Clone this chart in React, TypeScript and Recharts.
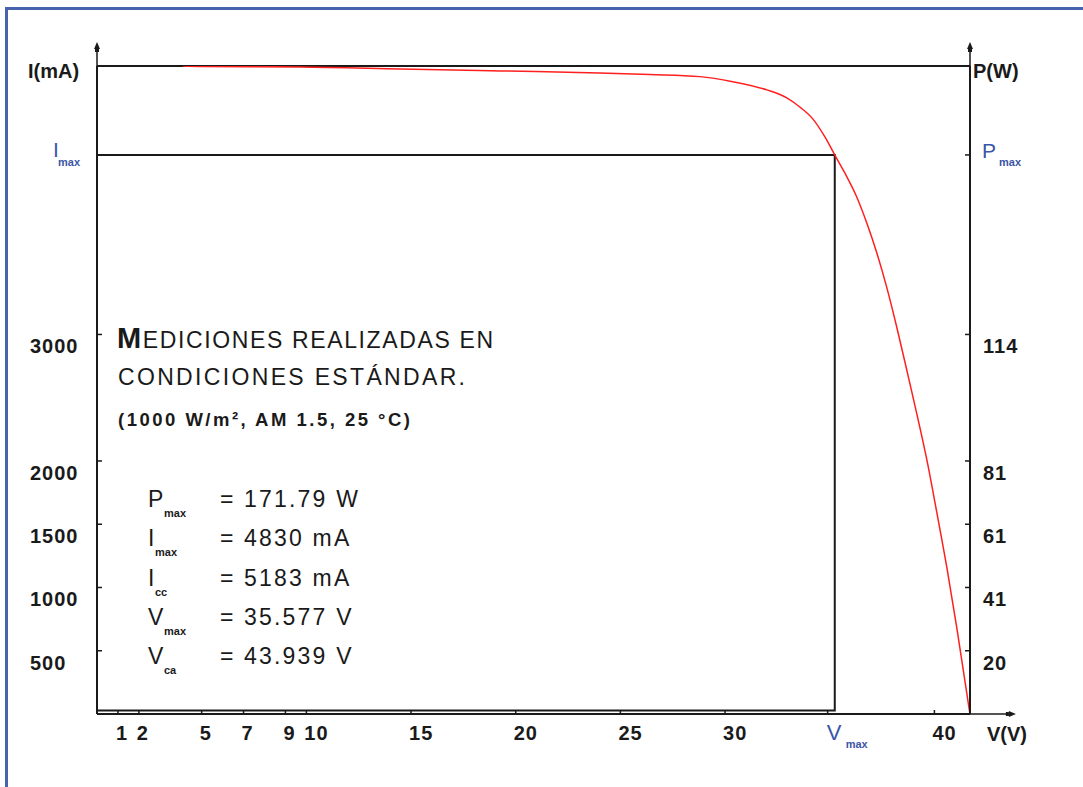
import { LineChart, Line, XAxis, YAxis, ReferenceLine, ReferenceArea, ReferenceDot } from "recharts";

// I-V curve (V in volts, I in mA)
const voltage = [4.1, 4.9, 9.7, 14.5, 19.3, 24.0, 26.4, 28.8, 30.37, 32.0, 32.95, 33.57, 34.19, 34.77, 35.24, 35.72, 36.29, 36.77, 37.25, 37.73, 38.2, 38.68, 39.16, 39.64, 40.11, 40.59, 41.07, 41.45, 41.69];
const current = [5122, 5119, 5115, 5099, 5083, 5067, 5055, 5038, 4998, 4933, 4870, 4798, 4704, 4561, 4419, 4277, 4087, 3881, 3644, 3368, 3059, 2719, 2372, 2008, 1597, 1162, 680, 269, 8];

const currentTicks = [500, 1000, 1500, 2000, 3000];
const powerLabels = ["20", "41", "61", "81", "114"];
const voltageTicks = [1, 2, 5, 7, 9, 10, 15, 20, 25, 30, 40];

const currentTop = 5122;
const currentArrow = 5280;
const voltageEnd = 41.7;
const voltageArrow = 43.7;
const imaxPlot = 4419;
const vmaxPlot = 35.24;
const vmaxTick = 34.9;
const boxBottom = 28;

const params = [
  { name: "P", sub: "max", value: "171.79 W" },
  { name: "I", sub: "max", value: "4830 mA" },
  { name: "I", sub: "cc", value: "5183 mA" },
  { name: "V", sub: "max", value: "35.577 V" },
  { name: "V", sub: "ca", value: "43.939 V" },
];

const data = voltage.map((v, i) => ({ v, i: current[i] }));

const FONT = "'Liberation Sans', Arial, sans-serif";
const INK = "#1a1a1a";
const BLUE = "#3b56a6";

function LeftTick({ x, y, payload }: any) {
  if (payload.value === imaxPlot) {
    return (
      <g fontFamily={FONT} fill={BLUE}>
        <text x={x - 44} y={y + 2} fontSize={21}>I</text>
        <text x={x - 39} y={y + 11} fontSize={11} fontWeight="bold">max</text>
      </g>
    );
  }
  return (
    <g>
      <line x1={x} x2={x + 5} y1={y} y2={y} stroke={INK} strokeWidth={1.5} />
      <text x={x - 67} y={y + 19} fontFamily={FONT} fontSize={20} fontWeight="bold" letterSpacing={1} fill={INK}>
        {payload.value}
      </text>
    </g>
  );
}

function RightTick({ x, y, payload }: any) {
  const idx = currentTicks.indexOf(payload.value);
  if (payload.value === imaxPlot) {
    return (
      <g fontFamily={FONT} fill={BLUE}>
        <line x1={x} x2={x - 5} y1={y} y2={y} stroke={INK} strokeWidth={1.5} />
        <text x={x + 12} y={y + 3} fontSize={21}>P</text>
        <text x={x + 29} y={y + 11} fontSize={11} fontWeight="bold">max</text>
      </g>
    );
  }
  return (
    <g>
      <line x1={x} x2={x - 5} y1={y} y2={y} stroke={INK} strokeWidth={1.5} />
      <text x={x + 13} y={y + 19} fontFamily={FONT} fontSize={20} fontWeight="bold" letterSpacing={1} fill={INK}>
        {powerLabels[idx]}
      </text>
    </g>
  );
}

function BottomTick({ x, y, payload }: any) {
  if (payload.value === vmaxTick) {
    return (
      <g fontFamily={FONT} fill={BLUE}>
        <line x1={x} x2={x} y1={y} y2={y - 4} stroke={INK} strokeWidth={1.5} />
        <text x={x - 1} y={y + 26} fontSize={22}>V</text>
        <text x={x + 18} y={y + 34} fontSize={11} fontWeight="bold">max</text>
      </g>
    );
  }
  return (
    <g>
      <line x1={x} x2={x} y1={y} y2={y - 4} stroke={INK} strokeWidth={1.5} />
      <text x={x - 2} y={y + 26} fontFamily={FONT} fontSize={20} fontWeight="bold" letterSpacing={1} fill={INK}>
        {payload.value}
      </text>
    </g>
  );
}

function UpArrow({ cx, cy }: any) {
  return (
    <g fill={INK}>
      <polygon points={`${cx},${cy - 4} ${cx - 3},${cy + 3} ${cx + 3},${cy + 3}`} />
      <rect x={cx - 2} y={cy + 3} width={4} height={3} />
    </g>
  );
}

function RightArrow({ cx, cy }: any) {
  return (
    <g fill={INK}>
      <polygon points={`${cx + 4},${cy} ${cx - 3},${cy - 3} ${cx - 3},${cy + 3}`} />
      <rect x={cx - 6} y={cy - 2} width={3} height={4} />
    </g>
  );
}

function Notes() {
  return (
    <svg width={1083} height={787} style={{ position: "absolute", left: 0, top: 0, pointerEvents: "none" }} fontFamily={FONT}>
      <text x={28} y={78} fontSize={20} fontWeight="bold" fill={INK}>I(mA)</text>
      <text x={973} y={78} fontSize={20} fontWeight="bold" fill={INK}>P(W)</text>
      <text x={987} y={741} fontSize={20} fontWeight="bold" fill={INK}>V(V)</text>

      <text x={117} y={348} fontSize={23} fill={INK} textLength={376} lengthAdjust="spacing">
        <tspan fontSize={29} fontWeight="bold">M</tspan>EDICIONES REALIZADAS EN
      </text>
      <text x={118} y={385} fontSize={23} fill={INK} textLength={347} lengthAdjust="spacing">
        CONDICIONES ESTÁNDAR.
      </text>
      <text x={118} y={426} fontSize={18.5} fontWeight="bold" fill={INK} textLength={292} lengthAdjust="spacing">
        (1000 W/m², AM 1.5, 25 °C)
      </text>

      {params.map((p, k) => {
        const base = 507 + k * 39.3;
        return (
          <g key={k} fill={INK}>
            <text x={148} y={base} fontSize={23}>{p.name}</text>
            <text x={p.name === "I" ? 155 : 164} y={base + 10} fontSize={11} fontWeight="bold">{p.sub}</text>
            <text x={220} y={base} fontSize={23}>=</text>
            <text x={244} y={base} fontSize={23} letterSpacing={2.2}>{p.value}</text>
          </g>
        );
      })}
    </svg>
  );
}

export default function App() {
  return (
    <div style={{ position: "absolute", left: 0, top: 0, width: 1083, height: 787, background: "#fff", overflow: "hidden" }}>
      <div style={{ position: "absolute", left: 5, top: 7, width: 1078, height: 780, borderLeft: "3px solid #4862ad", borderTop: "3px solid #4862ad" }} />
      <LineChart width={1083} height={787} data={data} margin={{ top: 66, right: 53, bottom: 43, left: 37 }}>
        <XAxis
          dataKey="v"
          type="number"
          domain={[0, voltageEnd]}
          ticks={[...voltageTicks, vmaxTick]}
          interval={0}
          tickSize={0}
          tickMargin={0}
          height={30}
          axisLine={{ stroke: INK, strokeWidth: 2 }}
          tickLine={false}
          tick={<BottomTick />}
          allowDataOverflow
        />
        <YAxis
          yAxisId="left"
          type="number"
          domain={[0, currentTop]}
          ticks={[...currentTicks, imaxPlot]}
          interval={0}
          tickSize={0}
          tickMargin={0}
          width={60}
          axisLine={{ stroke: INK, strokeWidth: 2 }}
          tickLine={false}
          tick={<LeftTick />}
          allowDataOverflow
        />
        <YAxis
          yAxisId="right"
          orientation="right"
          type="number"
          domain={[0, currentTop]}
          ticks={[...currentTicks, imaxPlot]}
          interval={0}
          tickSize={0}
          tickMargin={0}
          width={60}
          axisLine={{ stroke: INK, strokeWidth: 2 }}
          tickLine={false}
          tick={<RightTick />}
          allowDataOverflow
        />
        <ReferenceLine yAxisId="left" y={currentTop} stroke={INK} strokeWidth={2} />
        <ReferenceArea yAxisId="left" x1={0} x2={vmaxPlot} y1={boxBottom} y2={imaxPlot} fill="none" fillOpacity={0} stroke={INK} strokeWidth={2} />
        <ReferenceLine yAxisId="left" segment={[{ x: 0, y: currentTop }, { x: 0, y: currentArrow }]} stroke={INK} strokeWidth={1.5} ifOverflow="visible" />
        <ReferenceLine yAxisId="left" segment={[{ x: voltageEnd, y: currentTop }, { x: voltageEnd, y: currentArrow }]} stroke={INK} strokeWidth={1.5} ifOverflow="visible" />
        <ReferenceLine yAxisId="left" segment={[{ x: voltageEnd, y: 0 }, { x: voltageArrow, y: 0 }]} stroke={INK} strokeWidth={1.5} ifOverflow="visible" />
        <ReferenceDot yAxisId="left" x={0} y={currentArrow} ifOverflow="visible" shape={<UpArrow />} />
        <ReferenceDot yAxisId="left" x={voltageEnd} y={currentArrow} ifOverflow="visible" shape={<UpArrow />} />
        <ReferenceDot yAxisId="left" x={voltageArrow} y={0} ifOverflow="visible" shape={<RightArrow />} />
        <Line yAxisId="left" dataKey="i" type="monotone" stroke="#ff1f1f" strokeWidth={1.5} dot={false} isAnimationActive={false} />
      </LineChart>
      <Notes />
    </div>
  );
}
